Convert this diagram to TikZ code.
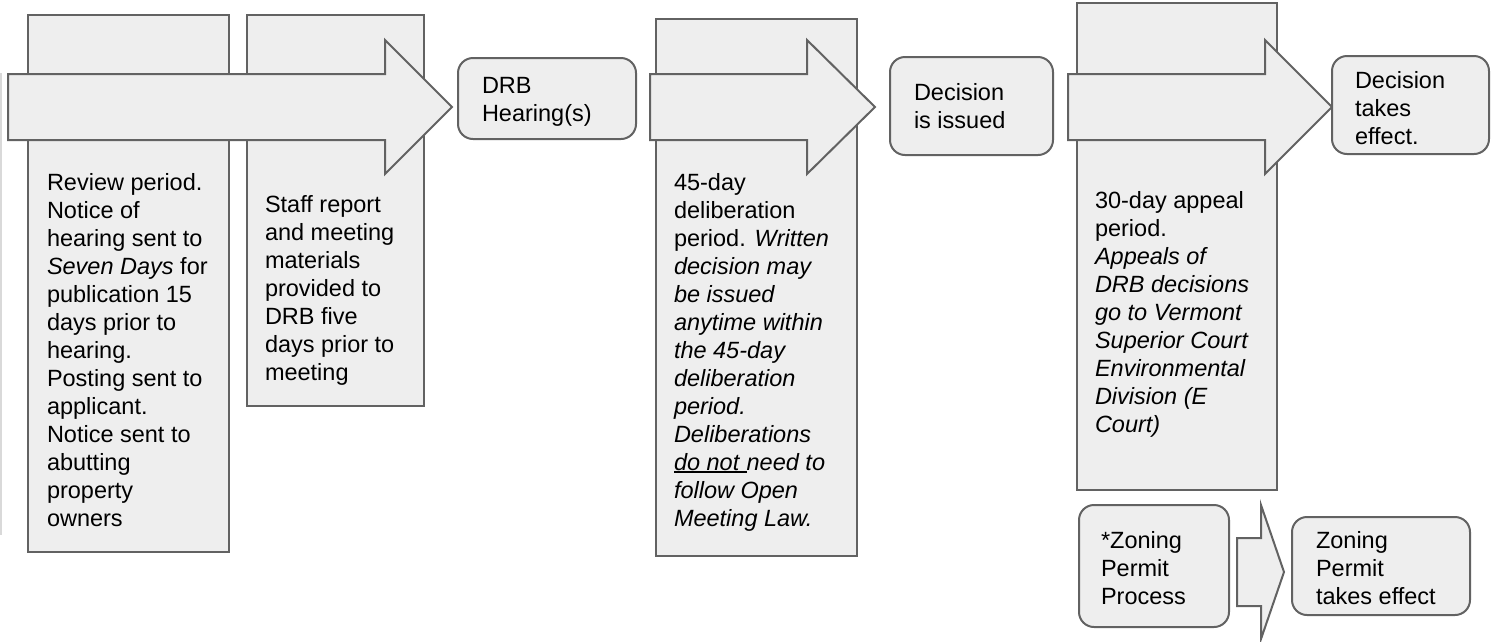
\documentclass[tikz,border=0pt]{standalone}
\usepackage{fontspec}
\setmainfont{Liberation Sans}
% stacked left-aligned lines; the block's baseline is that of its first line
\newcommand\txtblock[1]{\vtop{\baselineskip=28pt\lineskiplimit=-20pt\lineskip=0pt
  \halign{##\hfil\cr #1\crcr}}}
% underline drawn as a plain rule just under the baseline
\newcommand\ulin[1]{\setbox0\hbox{#1}\rlap{\rule[-3pt]{\wd0}{1.6pt}}\box0}
\definecolor{boxfill}{HTML}{EEEEEE}
\definecolor{boxline}{HTML}{626262}
\definecolor{edgeline}{HTML}{D9D9D9}
\begin{document}
\begin{tikzpicture}[x=1pt,y=-1pt,
  pbox/.style={draw=boxline,fill=boxfill,line width=2pt,anchor=north west,inner sep=0,outer sep=0},
  rbox/.style={pbox,rounded corners=15pt},
  blockarrow/.style={draw=boxline,fill=boxfill,line width=2pt,line join=miter},
  txt/.style={anchor=base west,inner sep=0,outer sep=0,font=\fontsize{23.5pt}{28pt}\selectfont}]
\useasboundingbox (0,0) rectangle (1491,641);

% faint edge on the left
\draw[edgeline,line width=2pt] (1,73) -- (1,535);

% review period and staff report
\node[pbox,minimum width=201pt,minimum height=537pt] (review) at (28,15) {};
\node[pbox,minimum width=177pt,minimum height=391pt] (staff) at (247,15) {};
\draw[blockarrow] (8,74) -- (385,74) -- (385,40) -- (452,107) -- (385,174) -- (385,140) -- (8,140) -- cycle;
\node[txt] (reviewtxt) at (47,190) {\txtblock{Review period.\cr Notice of\cr hearing sent to\cr
  \textit{Seven Days} for\cr publication 15\cr days prior to\cr hearing.\cr Posting sent to\cr
  applicant.\cr Notice sent to\cr abutting\cr property\cr owners}};
\node[txt] (stafftxt) at (265,212) {\txtblock{Staff report\cr and meeting\cr materials\cr
  provided to\cr DRB five\cr days prior to\cr meeting}};

% hearing
\node[rbox,minimum width=178pt,minimum height=81pt] (drb) at (458,58) {};
\node[txt] (drbtxt) at (482,93) {\txtblock{DRB\cr Hearing(s)}};

% deliberation period
\node[pbox,minimum width=201pt,minimum height=537pt] (delib) at (656,19) {};
\draw[blockarrow] (650,74) -- (807,74) -- (807,40) -- (875,107) -- (807,174) -- (807,140) -- (650,140) -- cycle;
\node[txt] (delibtxt) at (674,190) {\txtblock{45-day\cr deliberation\cr period. \textit{Written}\cr
  \textit{decision may}\cr \textit{be issued}\cr \textit{anytime within}\cr \textit{the 45-day}\cr
  \textit{deliberation}\cr \textit{period.}\cr \textit{Deliberations}\cr
  \ulin{\textit{do not }}\textit{need to}\cr \textit{follow Open}\cr \textit{Meeting Law.}}};

% decision issued
\node[rbox,minimum width=163pt,minimum height=98pt] (issued) at (890,57) {};
\node[txt] (issuedtxt) at (914,100) {\txtblock{Decision\cr is issued}};

% appeal period
\node[pbox,minimum width=200pt,minimum height=487pt] (appeal) at (1077,3) {};
\draw[blockarrow] (1068,74) -- (1265,74) -- (1265,40) -- (1332,107) -- (1265,174) -- (1265,140) -- (1068,140) -- cycle;
\node[txt] (appealtxt) at (1095,208) {\txtblock{30-day appeal\cr period.\cr \textit{Appeals of}\cr
  \textit{DRB decisions}\cr \textit{go to Vermont}\cr \textit{Superior Court}\cr
  \textit{Environmental}\cr \textit{Division (E}\cr \textit{Court)}}};

% decision takes effect
\node[rbox,minimum width=157pt,minimum height=98pt] (effect) at (1332,56) {};
\node[txt] (effecttxt) at (1355,88) {\txtblock{Decision\cr takes\cr effect.}};

% zoning permit
\node[rbox,minimum width=150pt,minimum height=122pt] (zoning) at (1079,505) {};
\node[txt] (zoningtxt) at (1101,548) {\txtblock{*Zoning\cr Permit\cr Process}};
\draw[blockarrow] (1237,538) -- (1261,538) -- (1261,505) -- (1284,572) -- (1261,639) -- (1261,606) -- (1237,606) -- cycle;
\node[rbox,minimum width=178pt,minimum height=98pt] (zoneffect) at (1292,517) {};
\node[txt] (zoneffecttxt) at (1316,548) {\txtblock{Zoning\cr Permit\cr takes effect}};
\end{tikzpicture}
\end{document}
